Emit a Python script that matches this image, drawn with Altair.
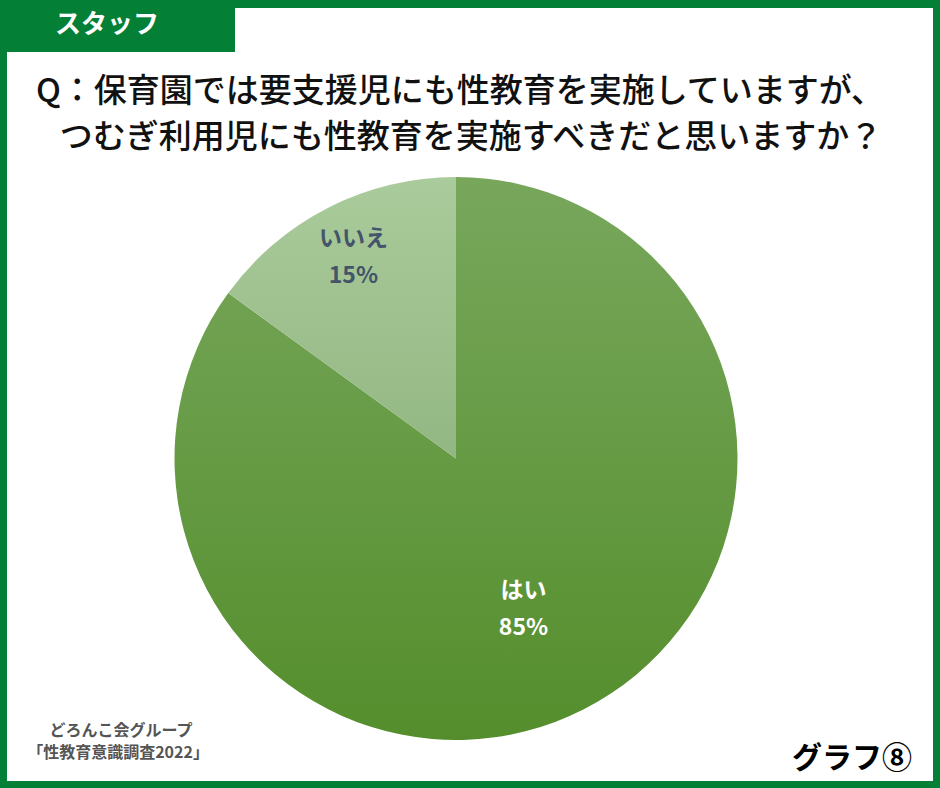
import altair as alt
import pandas as pd

labels = ["はい", "いいえ"]
values = [85, 15]
pct_text = ["85%", "15%"]
order = [0, 1]

title_lines = ["Q：保育園では要支援児にも性教育を実施していますが、",
               "つむぎ利用児にも性教育を実施すべきだと思いますか？"]
tab_text = "スタッフ"
source_lines = ["どろんこ会グループ", "「性教育意識調査2022」"]
graph_label = "グラフ⑧"

GREEN = "#037F36"
FONT = "Noto Sans CJK JP"
CX, CY, R = 456, 458.5, 281.5

df = pd.DataFrame({"label": labels, "value": values, "pct": pct_text, "ord": order})
df["txt"] = df["label"] + "\n" + df["pct"]

grad_yes = {"gradient": "linear", "x1": 0, "y1": 0, "x2": 0, "y2": 1,
            "stops": [{"offset": 0, "color": "#78A75C"}, {"offset": 1, "color": "#548E2C"}]}
grad_no = {"gradient": "linear", "x1": 0, "y1": 0, "x2": 0, "y2": 1,
           "stops": [{"offset": 0, "color": "#AACB9B"}, {"offset": 1, "color": "#93B783"}]}

theta = alt.Theta("value:Q", stack=True, scale=alt.Scale(domain=[0, 100]))
base = alt.Chart(df)

arcs = base.mark_arc(outerRadius=R).encode(
    theta=theta,
    detail="label:N",
    order=alt.Order("ord:Q"),
    x=alt.value(CX), y=alt.value(CY),
    fill=alt.condition(alt.datum.label == "はい", alt.value(grad_yes), alt.value(grad_no)),
)

txt_no = base.mark_text(radius=226, dy=-18.5, font=FONT, fontSize=23, fontWeight="bold",
                        color="#44546A", lineBreak="\n", lineHeight=37,
                        baseline="middle", align="center").encode(
    theta=theta, detail="label:N", order=alt.Order("ord:Q"),
    x=alt.value(CX), y=alt.value(CY),
    text=alt.condition(alt.datum.label == "いいえ", alt.Text("txt:N"), alt.value("")),
)

txt_yes = base.mark_text(radius=165, thetaOffset=0.05, dy=-18.5, font=FONT, fontSize=23,
                         fontWeight="bold", color="white", lineBreak="\n", lineHeight=37,
                         baseline="middle", align="center").encode(
    theta=theta, detail="label:N", order=alt.Order("ord:Q"),
    x=alt.value(CX), y=alt.value(CY),
    text=alt.condition(alt.datum.label == "はい", alt.Text("txt:N"), alt.value("")),
)

dummy = alt.Chart(pd.DataFrame({"k": [0]}))

# frame
frame = dummy.mark_rect(fill=None, stroke=GREEN, strokeWidth=7).encode(
    x=alt.value(3.5), x2=alt.value(936.5), y=alt.value(4), y2=alt.value(784.5))
top_band = dummy.mark_rect(color=GREEN).encode(
    x=alt.value(0), x2=alt.value(940), y=alt.value(0), y2=alt.value(8))
tab = dummy.mark_rect(color=GREEN).encode(
    x=alt.value(0), x2=alt.value(235), y=alt.value(0), y2=alt.value(52))

tab_t = dummy.mark_text(text=tab_text, font=FONT, fontSize=26, fontWeight="bold",
                        color="white", align="center", baseline="middle").encode(
    x=alt.value(107), y=alt.value(25))

t1 = dummy.mark_text(text=title_lines[0], font=FONT, fontSize=33, fontWeight=500,
                     color="#111111", align="center", baseline="middle").encode(
    x=alt.value(460), y=alt.value(92))
t2 = dummy.mark_text(text=title_lines[1], font=FONT, fontSize=33, fontWeight=500,
                     color="#111111", align="center", baseline="middle").encode(
    x=alt.value(471), y=alt.value(138))

s1 = dummy.mark_text(text=source_lines[0], font=FONT, fontSize=16, fontWeight="bold",
                     color="#555555", align="center", baseline="middle").encode(
    x=alt.value(121), y=alt.value(731))
s2 = dummy.mark_text(text=source_lines[1], font=FONT, fontSize=16, fontWeight="bold",
                     color="#555555", align="center", baseline="middle").encode(
    x=alt.value(118), y=alt.value(753))

g = dummy.mark_text(text=graph_label, font=FONT, fontSize=30, fontWeight="bold",
                    color="#000000", align="center", baseline="middle").encode(
    x=alt.value(852), y=alt.value(759))

chart = alt.layer(frame, top_band, tab, tab_t, t1, t2, arcs, txt_no, txt_yes, s1, s2, g).properties(
    width=940, height=788, autosize=alt.AutoSizeParams(type="none"), padding=0,
    background="white",
).configure_view(stroke=None)

chart.save("out.html", embed_options={"renderer": "svg", "actions": False})
